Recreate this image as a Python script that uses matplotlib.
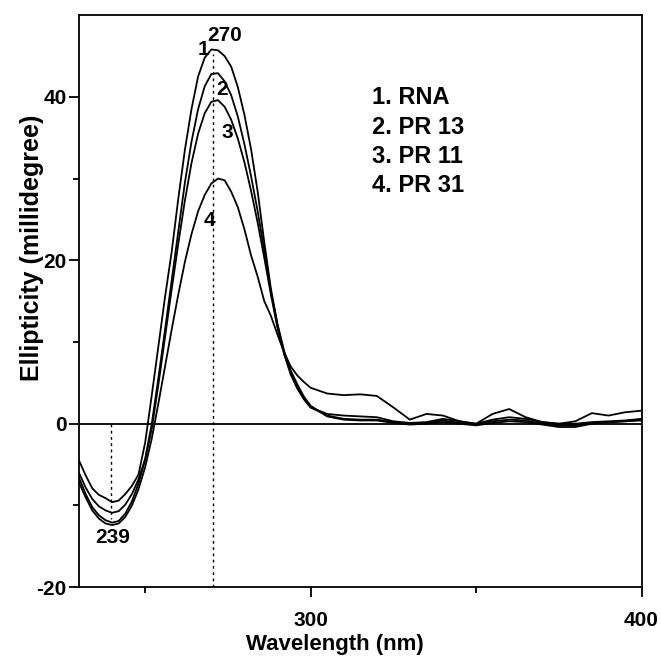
import matplotlib

matplotlib.use("Agg")
import matplotlib.pyplot as plt
from matplotlib.ticker import FixedLocator

plt.rcParams["font.family"] = ["Liberation Sans", "DejaVu Sans"]
plt.rcParams["font.weight"] = "bold"
plt.rcParams["axes.unicode_minus"] = False

# wavelength grid (nm) shared by all spectra
wavelength = [230, 232, 234, 236, 238, 240, 242, 244, 246, 248, 250, 252, 254, 256, 258,
              260, 262, 264, 266, 268, 270, 272, 274, 276, 278, 280, 282, 284, 286, 288,
              290, 292, 294, 296, 298, 300, 305, 310, 315, 320, 325, 330, 335, 340, 345,
              350, 355, 360, 365, 370, 375, 380, 385, 390, 395, 400]

# 1. RNA
rna = [-4.5, -6.3, -7.9, -8.7, -9.1, -9.6, -9.4, -8.6, -7.6, -6.2, -2.3, 3.5, 9.5, 15.5, 21.0,
       27.5, 33.5, 38.5, 42.5, 44.8, 45.8, 45.7, 45.0, 43.7, 41.2, 37.8, 33.6, 28.4, 22.2, 16.5,
       12.2, 8.9, 6.5, 4.8, 3.3, 2.2, 0.9, 0.5, 0.4, 0.4, 0.1, -0.1, 0.0, 0.2, 0.0,
       -0.2, 0.1, 0.3, 0.2, -0.1, -0.4, -0.4, 0.0, 0.2, 0.3, 0.4]

# 2. PR 13
pr13 = [-6.0, -7.8, -9.2, -10.1, -10.6, -10.9, -10.7, -9.9, -8.6, -6.8, -4.3, 0.0, 5.6, 11.5, 17.5,
        23.5, 29.5, 34.5, 38.5, 41.3, 42.8, 42.9, 41.9, 40.2, 37.6, 34.2, 30.3, 26.0, 21.2, 16.2,
        12.0, 8.7, 6.2, 4.4, 3.0, 2.0, 1.0, 0.6, 0.5, 0.5, 0.2, 0.0, 0.1, 0.4, 0.1,
        -0.1, 0.3, 0.5, 0.4, 0.0, -0.2, -0.2, 0.1, 0.2, 0.3, 0.5]

# 3. PR 11
pr11 = [-6.6, -8.6, -10.2, -11.2, -11.8, -12.1, -11.9, -11.0, -9.5, -7.3, -4.4, -0.6, 4.8, 10.6, 16.4,
        22.0, 27.3, 31.9, 35.5, 38.0, 39.4, 39.6, 38.8, 37.2, 34.9, 32.0, 28.5, 24.6, 20.3, 15.8,
        11.7, 8.5, 6.0, 4.3, 3.0, 2.0, 1.2, 1.0, 0.9, 0.8, 0.3, 0.1, 0.2, 0.6, 0.3,
        0.0, 0.5, 0.8, 0.6, 0.2, 0.0, 0.0, 0.2, 0.3, 0.4, 0.6]

# 4. PR 31
pr31 = [-7.2, -9.0, -10.6, -11.6, -12.2, -12.4, -12.2, -11.4, -10.0, -8.0, -5.3, -1.8, 2.5, 7.0, 11.5,
        15.8, 19.8, 23.2, 26.0, 28.0, 29.4, 30.0, 29.8, 28.4, 26.5, 23.8, 20.6, 18.0, 15.0, 13.2,
        10.9, 8.7, 7.0, 5.9, 5.1, 4.4, 3.7, 3.5, 3.6, 3.4, 2.0, 0.5, 1.2, 1.0, 0.3,
        0.0, 1.2, 1.8, 0.8, 0.2, 0.0, 0.3, 1.3, 1.0, 1.4, 1.6]

series = [rna, pr13, pr11, pr31]
legend_lines = ["1. RNA", "2. PR 13", "3. PR 11", "4. PR 31"]
curve_tags = ["1", "2", "3", "4"]
tag_xy = [(267.7, 45.8), (273.2, 40.9), (274.7, 35.6), (269.4, 24.9)]
peak_nm, trough_nm = 270.5, 239.8

fig = plt.figure(figsize=(6.61, 6.59), dpi=100)
ax = fig.add_axes([0.1195, 0.109, 0.851, 0.868])

for values in series:
    ax.plot(wavelength, values, color="black", lw=1.3)

ax.axhline(0, color="black", lw=1.3)
ax.plot([peak_nm, peak_nm], [-20, 45.2], color="black", lw=1, ls=(0, (2, 2.5)))
ax.plot([trough_nm, trough_nm], [0, -11.6], color="black", lw=1, ls=(0, (2, 2.5)))

ax.text(274.1, 47.5, "270", ha="center", va="center", fontsize=15)
ax.text(240.3, -13.9, "239", ha="center", va="center", fontsize=15)
for tag, (tx, ty) in zip(curve_tags, tag_xy):
    ax.text(tx, ty, tag, ha="center", va="center", fontsize=15)

for i, line in enumerate(legend_lines):
    ax.text(318.7, 39.9 - 3.6 * i, line, ha="left", va="center", fontsize=17)

ax.set_xlim(230, 400)
ax.set_ylim(-20, 50)
ax.xaxis.set_major_locator(FixedLocator([300, 400]))
ax.xaxis.set_minor_locator(FixedLocator([250, 350]))
ax.yaxis.set_major_locator(FixedLocator([-20, 0, 20, 40]))
ax.yaxis.set_minor_locator(FixedLocator([-10, 10, 30]))
ax.tick_params(which="major", direction="out", length=7, width=1.3, labelsize=15)
ax.tick_params(which="minor", direction="out", length=4, width=1.3)
ax.tick_params(axis="x", which="major", pad=10)
ax.tick_params(axis="y", which="major", pad=2)
for spine in ax.spines.values():
    spine.set_linewidth(1.3)

ax.set_xlabel("Wavelength (nm)", fontsize=16, fontweight="bold")
ax.set_ylabel("Ellipticity (millidegree)", fontsize=18, fontweight="bold")
ax.xaxis.set_label_coords(0.455, -0.082)
ax.yaxis.set_label_coords(-0.062, 0.594)

fig.savefig("out.png", dpi=100)
